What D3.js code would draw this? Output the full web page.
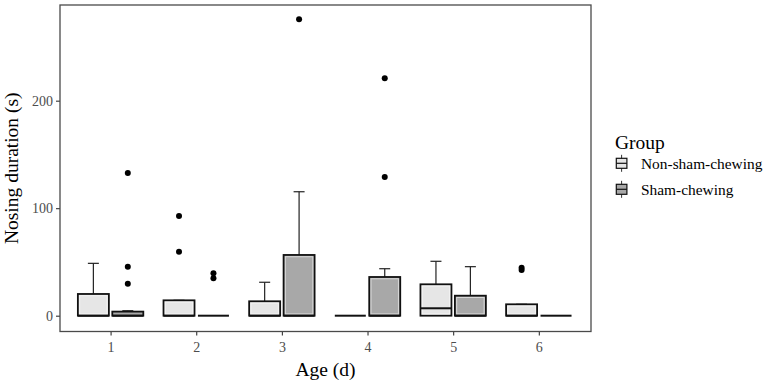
<!DOCTYPE html>
<html>
<head>
<meta charset="utf-8">
<script src="https://cdn.jsdelivr.net/npm/d3@7"></script>
<style>
  body { margin: 0; background: #fff; }
  svg { display: block; }
  text { font-family: "Liberation Serif", "Times New Roman", serif; }
</style>
</head>
<body>
<svg id="chart" width="765" height="383"></svg>
<script>
// ---- Data ----
const ages = ["1", "2", "3", "4", "5", "6"];
const groups = ["Non-sham-chewing", "Sham-chewing"];
const yTicks = [0, 100, 200];

const nonShamLower  = [0, 0, 0, 0, 0, 0];
const nonShamQ1     = [0, 0, 0, 0, 0, 0];
const nonShamMedian = [0, 0, 0, 0, 6.9, 0];
const nonShamQ3     = [20.2, 14.3, 13.4, 0, 29.2, 10.6];
const nonShamUpper  = [48.7, 14.3, 31.1, 0, 50.6, 10.6];
const nonShamOutliers = [[], [92.7, 59.5], [], [], [], [42.6, 44.6]];

const shamLower  = [0, 0, 0, 0, 0, 0];
const shamQ1     = [0, 0, 0, 0, 0, 0];
const shamMedian = [0, 0, 0, 0, 0, 0];
const shamQ3     = [3.8, 0, 56.5, 36.0, 18.6, 0];
const shamUpper  = [4.6, 0, 115.3, 43.7, 45.6, 0];
const shamOutliers = [[132.7, 45.6, 29.8], [39.4, 34.8], [275.7], [220.8, 129.0], [], []];

const fills = ["#e6e6e6", "#a8a8a8"];

// Build box records from the arrays
const boxes = [];
ages.forEach((a, i) => {
  boxes.push({age: a, g: 0, lower: nonShamLower[i], q1: nonShamQ1[i], med: nonShamMedian[i], q3: nonShamQ3[i], upper: nonShamUpper[i], out: nonShamOutliers[i]});
  boxes.push({age: a, g: 1, lower: shamLower[i], q1: shamQ1[i], med: shamMedian[i], q3: shamQ3[i], upper: shamUpper[i], out: shamOutliers[i]});
});

// ---- Layout ----
const P = {left: 60, right: 591, top: 5, bottom: 331.5};
const svg = d3.select("#chart");

const x = d3.scalePoint().domain(ages).range([P.left - 0.8, P.right - 0.8]).padding(0.6);
const step = x.step();
const y = d3.scaleLinear().domain([-14.7, 289.0]).range([P.bottom, P.top]);

const boxW = step * 0.362;
const dodge = step * 0.201;
const capW = 11;
const cx = d => x(d.age) + (d.g === 0 ? -dodge : dodge);

// Panel background & border
svg.append("rect")
  .attr("x", P.left).attr("y", P.top)
  .attr("width", P.right - P.left).attr("height", P.bottom - P.top)
  .attr("fill", "#fff");

// Axes
const yAxis = d3.axisLeft(y).tickValues(yTicks).tickSize(4).tickPadding(3);
const gy = svg.append("g").attr("transform", `translate(${P.left},0)`).call(yAxis);
gy.select(".domain").remove();
gy.selectAll(".tick line").attr("stroke", "#333").attr("stroke-width", 1.1);
gy.selectAll(".tick text")
  .attr("fill", "#4d4d4d").style("font-size", "14px")
  .style("font-family", "'Liberation Serif', serif");

const xAxis = d3.axisBottom(x).tickSize(4).tickPadding(7);
const gx = svg.append("g").attr("transform", `translate(0,${P.bottom})`).call(xAxis);
gx.select(".domain").remove();
gx.selectAll(".tick line").attr("stroke", "#333").attr("stroke-width", 1.1);
gx.selectAll(".tick text")
  .attr("fill", "#4d4d4d").style("font-size", "14px")
  .style("font-family", "'Liberation Serif', serif");

// Whiskers (errorbar style)
const wg = svg.append("g");
boxes.forEach(d => {
  const c = cx(d);
  if (d.upper > d.q3) {
    wg.append("line").attr("x1", c).attr("x2", c)
      .attr("y1", y(d.q3)).attr("y2", y(d.upper))
      .attr("stroke", "#222").attr("stroke-width", 1.2);
  }
  if (d.upper > 0) {
    wg.append("line").attr("x1", c - capW / 2).attr("x2", c + capW / 2)
      .attr("y1", y(d.upper)).attr("y2", y(d.upper))
      .attr("stroke", "#222").attr("stroke-width", 1.2);
  }
  if (d.lower < d.q1) {
    wg.append("line").attr("x1", c).attr("x2", c)
      .attr("y1", y(d.q1)).attr("y2", y(d.lower))
      .attr("stroke", "#222").attr("stroke-width", 1.2);
  }
});

// Boxes
const bg = svg.append("g");
boxes.forEach(d => {
  const c = cx(d);
  const top = y(d.q3), bot = y(d.q1);
  bg.append("rect")
    .attr("x", c - boxW / 2).attr("y", top)
    .attr("width", boxW).attr("height", Math.max(0, bot - top))
    .attr("fill", fills[d.g]).attr("stroke", "#111").attr("stroke-width", 1.8);
  if (bot - top > 5) {
    bg.append("rect")
      .attr("x", c - boxW / 2 + 1.8).attr("y", top + 1.8)
      .attr("width", boxW - 3.6).attr("height", bot - top - 3.6)
      .attr("fill", "none").attr("stroke", "#fff").attr("stroke-opacity", 0.55).attr("stroke-width", 1);
  }
  bg.append("line")
    .attr("x1", c - boxW / 2).attr("x2", c + boxW / 2)
    .attr("y1", y(d.med)).attr("y2", y(d.med))
    .attr("stroke", "#111").attr("stroke-width", 2);
});

// Outliers
const og = svg.append("g");
boxes.forEach(d => {
  d.out.forEach(v => {
    og.append("circle").attr("cx", cx(d)).attr("cy", y(v)).attr("r", 3).attr("fill", "#000");
  });
});

// Panel border
svg.append("rect")
  .attr("x", P.left).attr("y", P.top)
  .attr("width", P.right - P.left).attr("height", P.bottom - P.top)
  .attr("fill", "none").attr("stroke", "#4a4a4a").attr("stroke-width", 1.3);

// Axis titles
svg.append("text")
  .attr("x", (P.left + P.right) / 2).attr("y", 376)
  .attr("text-anchor", "middle").style("font-size", "19.5px").attr("fill", "#000")
  .text("Age (d)");
svg.append("text")
  .attr("transform", `translate(18,${(P.top + P.bottom) / 2}) rotate(-90)`)
  .attr("text-anchor", "middle").style("font-size", "19.5px").attr("fill", "#000")
  .text("Nosing duration (s)");

// Legend
const lg = svg.append("g");
lg.append("text").attr("x", 615).attr("y", 149)
  .style("font-size", "19.5px").attr("fill", "#000").text("Group");
groups.forEach((g, i) => {
  const cy = 163.3 + i * 26;
  const kx = 621.6;
  lg.append("line").attr("x1", kx).attr("x2", kx).attr("y1", cy - 8.5).attr("y2", cy + 8.5)
    .attr("stroke", "#333").attr("stroke-width", 1);
  lg.append("rect").attr("x", kx - 5.3).attr("y", cy - 5).attr("width", 10.6).attr("height", 10)
    .attr("fill", fills[i]).attr("stroke", "#111").attr("stroke-width", 1.2);
  lg.append("line").attr("x1", kx - 5.3).attr("x2", kx + 5.3).attr("y1", cy).attr("y2", cy)
    .attr("stroke", "#111").attr("stroke-width", 1.2);
  lg.append("text").attr("x", 641).attr("y", cy + 5.3)
    .style("font-size", "15.4px").attr("fill", "#000").text(g);
});
</script>
</body>
</html>
